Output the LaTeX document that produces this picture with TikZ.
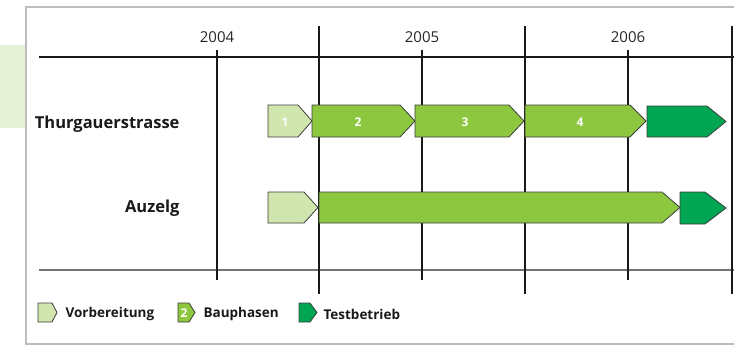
\documentclass[tikz,border=0pt]{standalone}
\usepackage{fontspec}
\setmainfont{Open Sans}
\definecolor{lightg}{HTML}{D1E5AE}
\definecolor{midg}{HTML}{8DC63F}
\definecolor{darkg}{HTML}{00A651}
\definecolor{paleg}{HTML}{E5F0D6}
\definecolor{framegrey}{HTML}{BDBDBD}
\definecolor{outl}{HTML}{3C3C3C}
\newcommand\chev[6]{\filldraw[#6] (#1,#2) -- (#3,#2) -- (#4,{(#2+#5)/2}) -- (#3,#5) -- (#1,#5) -- cycle;}
\begin{document}
\begin{tikzpicture}[x=1pt,y=-1pt,
  gridline/.style={line width=2pt,draw=black!90},
  phase/.style={draw=outl,line width=0.8pt,line join=miter},
  year/.style={font=\fontsize{15}{15}\selectfont,text=black!85},
  rowlabel/.style={font=\fontsize{16.5}{16}\selectfont\bfseries,anchor=east,text=black!90},
  num/.style={font=\fontsize{12}{12}\selectfont\bfseries,text=white},
  legtext/.style={font=\fontsize{13.5}{13}\selectfont\bfseries,anchor=west,text=black!90}]
\useasboundingbox (0,0) rectangle (734,345);
% frame and pale tab
\fill[paleg] (0,45) rectangle (25,128);
\draw[framegrey,line width=2pt] (734,7.5) -- (26,7.5) -- (26,344) -- (734,344);
% horizontal lines
\draw[gridline] (39,57) -- (734,57);
\draw[line width=1.5pt,draw=black!55] (39,270) -- (734,270);
% vertical lines
\foreach \x in {319,525,732} \draw[gridline] (\x,26) -- (\x,294);
\foreach \x in {217,422,628} \draw[gridline] (\x,50) -- (\x,280);
% year labels
\node[year] (y2004) at (217,37) {2004};
\node[year] (y2005) at (422,37) {2005};
\node[year] (y2006) at (628,37) {2006};
% row labels
\node[rowlabel] (thurg) at (183,124) {Thurgauerstrasse};
\node[rowlabel] (auzelg) at (183,208) {Auzelg};
% row 1
\chev{268}{105}{298}{312}{137}{phase,fill=lightg}
\chev{312}{105}{400}{415}{137}{phase,fill=midg}
\chev{415}{105}{509}{524}{137}{phase,fill=midg}
\chev{525}{105}{630}{646}{137}{phase,fill=midg}
\chev{647}{106}{707}{726}{137}{phase,fill=darkg}
\node[num] (n1) at (285,122) {1};
\node[num] (n2) at (358,122) {2};
\node[num] (n3) at (465,122) {3};
\node[num] (n4) at (580,122) {4};
% row 2
\chev{268}{192}{304}{318}{223}{phase,fill=lightg}
\chev{319}{192}{662}{680}{223}{phase,fill=midg}
\chev{680}{192}{705}{726}{224}{phase,fill=darkg}
% legend
\chev{38}{303}{52}{57}{322}{phase,fill=lightg}
\node[legtext] (lv) at (62,314) {Vorbereitung};
\chev{178}{303}{189}{195}{322}{phase,fill=midg}
\node[num,font=\fontsize{12}{12}\selectfont\bfseries] (l2) at (184,313.5) {2};
\node[legtext] (lb) at (200,314) {Bauphasen};
\chev{299}{303}{310}{317}{322}{phase,fill=darkg}
\node[legtext] (lt) at (320,314) {Testbetrieb};
\end{tikzpicture}
\end{document}
